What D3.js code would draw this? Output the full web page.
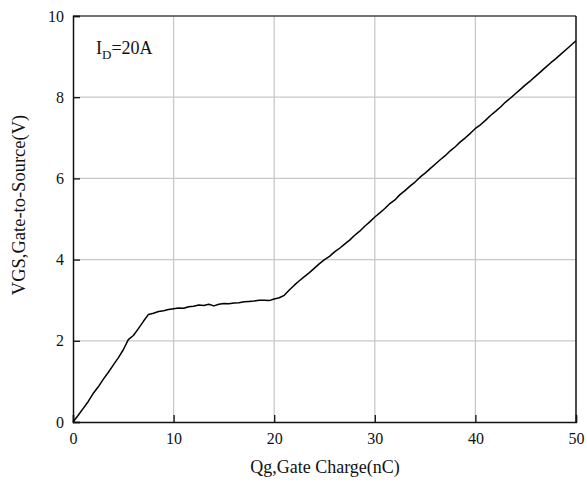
<!DOCTYPE html>
<html>
<head>
<meta charset="utf-8">
<script src="https://cdn.jsdelivr.net/npm/d3@7"></script>
<style>
  html, body { margin: 0; padding: 0; background: #fff; }
  svg { display: block; }
  svg text { font-family: "Liberation Serif", "Times New Roman", serif !important; fill: #111; }
</style>
</head>
<body>
<svg id="chart" width="587" height="487"></svg>
<script>
// Gate charge (nC) and gate-to-source voltage (V), ID = 20 A
const chargeNC = [
  0, 0.5, 1, 1.5, 2, 2.5, 3, 3.5, 4, 4.5,
  5, 5.5, 6, 6.5, 7, 7.5, 8, 8.5, 9, 9.5,
  10, 10.5, 11, 11.5, 12, 12.5, 13, 13.5, 14, 14.5,
  15, 15.5, 16, 16.5, 17, 17.5, 18, 18.5, 19, 19.5,
  20, 20.5, 21, 21.5, 22, 22.5, 23, 23.5, 24, 24.5,
  25, 25.5, 26, 26.5, 27, 27.5, 28, 28.5, 29, 29.5,
  30, 30.5, 31, 31.5, 32, 32.5, 33, 33.5, 34, 34.5,
  35, 35.5, 36, 36.5, 37, 37.5, 38, 38.5, 39, 39.5,
  40, 40.5, 41, 41.5, 42, 42.5, 43, 43.5, 44, 44.5,
  45, 45.5, 46, 46.5, 47, 47.5, 48, 48.5, 49, 49.5, 50
];
const vgsVolts = [
  0, 0.16, 0.33, 0.5, 0.7, 0.86, 1.05, 1.22, 1.4, 1.58,
  1.78, 2.03, 2.13, 2.3, 2.48, 2.65, 2.68, 2.72, 2.74, 2.77,
  2.79, 2.81, 2.8, 2.84, 2.85, 2.88, 2.87, 2.9, 2.86, 2.9,
  2.92, 2.91, 2.93, 2.94, 2.96, 2.97, 2.98, 3.0, 3.0, 2.99,
  3.03, 3.06, 3.12, 3.25, 3.37, 3.48, 3.58, 3.68, 3.79, 3.9,
  4.0, 4.08, 4.19, 4.28, 4.38, 4.48, 4.6, 4.7, 4.82, 4.93,
  5.05, 5.15, 5.26, 5.38, 5.47, 5.6, 5.7, 5.81, 5.91, 6.03,
  6.13, 6.24, 6.35, 6.46, 6.56, 6.68, 6.78, 6.9, 7.0, 7.11,
  7.23, 7.32, 7.43, 7.55, 7.65, 7.76, 7.88, 7.98, 8.09, 8.2,
  8.31, 8.41, 8.52, 8.63, 8.74, 8.85, 8.95, 9.06, 9.17, 9.28, 9.39
];
const xTicks = [0, 10, 20, 30, 40, 50];
const yTicks = [0, 2, 4, 6, 8, 10];

const serif = '"Liberation Serif", "Times New Roman", serif';
const margin = { left: 73, right: 11, top: 16, bottom: 65 };
const W = 587, H = 487;
const innerW = W - margin.left - margin.right;
const innerH = H - margin.top - margin.bottom;

const svg = d3.select("#chart");
const g = svg.append("g").attr("transform", `translate(${margin.left},${margin.top})`);

const x = d3.scaleLinear().domain([0, 50]).range([0, innerW]);
const y = d3.scaleLinear().domain([0, 10]).range([innerH, 0]);

// grid
g.append("g").selectAll("line").data(xTicks.slice(1, -1)).join("line")
  .attr("x1", d => x(d)).attr("x2", d => x(d))
  .attr("y1", 0).attr("y2", innerH)
  .attr("stroke", "#c8c8c8").attr("stroke-width", 1.3);
g.append("g").selectAll("line").data(yTicks.slice(1, -1)).join("line")
  .attr("x1", 0).attr("x2", innerW)
  .attr("y1", d => y(d)).attr("y2", d => y(d))
  .attr("stroke", "#c8c8c8").attr("stroke-width", 1.3);

// frame
g.append("line").attr("x1", 0).attr("x2", innerW).attr("y1", 0).attr("y2", 0)
  .attr("stroke", "#444").attr("stroke-width", 1.5);
g.append("line").attr("x1", innerW).attr("x2", innerW).attr("y1", 0).attr("y2", innerH)
  .attr("stroke", "#111").attr("stroke-width", 1.5);

// axes with inward ticks
const xAxis = d3.axisBottom(x).tickValues(xTicks).tickSize(-7).tickPadding(11).tickFormat(d3.format("d"));
const yAxis = d3.axisLeft(y).tickValues(yTicks).tickSize(-7).tickPadding(9).tickFormat(d3.format("d"));

const gx = g.append("g").attr("transform", `translate(0,${innerH})`).call(xAxis);
const gy = g.append("g").call(yAxis);
[gx, gy].forEach(a => {
  a.attr("font-family", null).attr("font-size", null);
  a.select(".domain").attr("stroke", "#111").attr("stroke-width", 1.5);
  a.selectAll(".tick line").attr("stroke", "#111").attr("stroke-width", 1.3);
  a.selectAll(".tick text").style("font-size", "16px").style("font-family", serif).attr("fill", "#111");
});

// curve
const line = d3.line().x((d, i) => x(chargeNC[i])).y(d => y(d));
g.append("path").datum(vgsVolts)
  .attr("d", line)
  .attr("fill", "none").attr("stroke", "#000").attr("stroke-width", 1.5)
  .attr("stroke-linejoin", "round");

// annotation
const ann = svg.append("text").attr("x", 96).attr("y", 54).style("font-size", "18px");
ann.append("tspan").text("I");
ann.append("tspan").style("font-size", "13px").attr("dy", 5).text("D");
ann.append("tspan").attr("dy", -5).text("=20A");

// axis titles
svg.append("text").attr("x", 325).attr("y", 473).attr("text-anchor", "middle")
  .style("font-size", "18px").text("Qg,Gate Charge(nC)");
svg.append("text").attr("transform", "translate(25,205) rotate(-90)")
  .attr("text-anchor", "middle").style("font-size", "18.5px").text("VGS,Gate-to-Source(V)");
</script>
</body>
</html>
